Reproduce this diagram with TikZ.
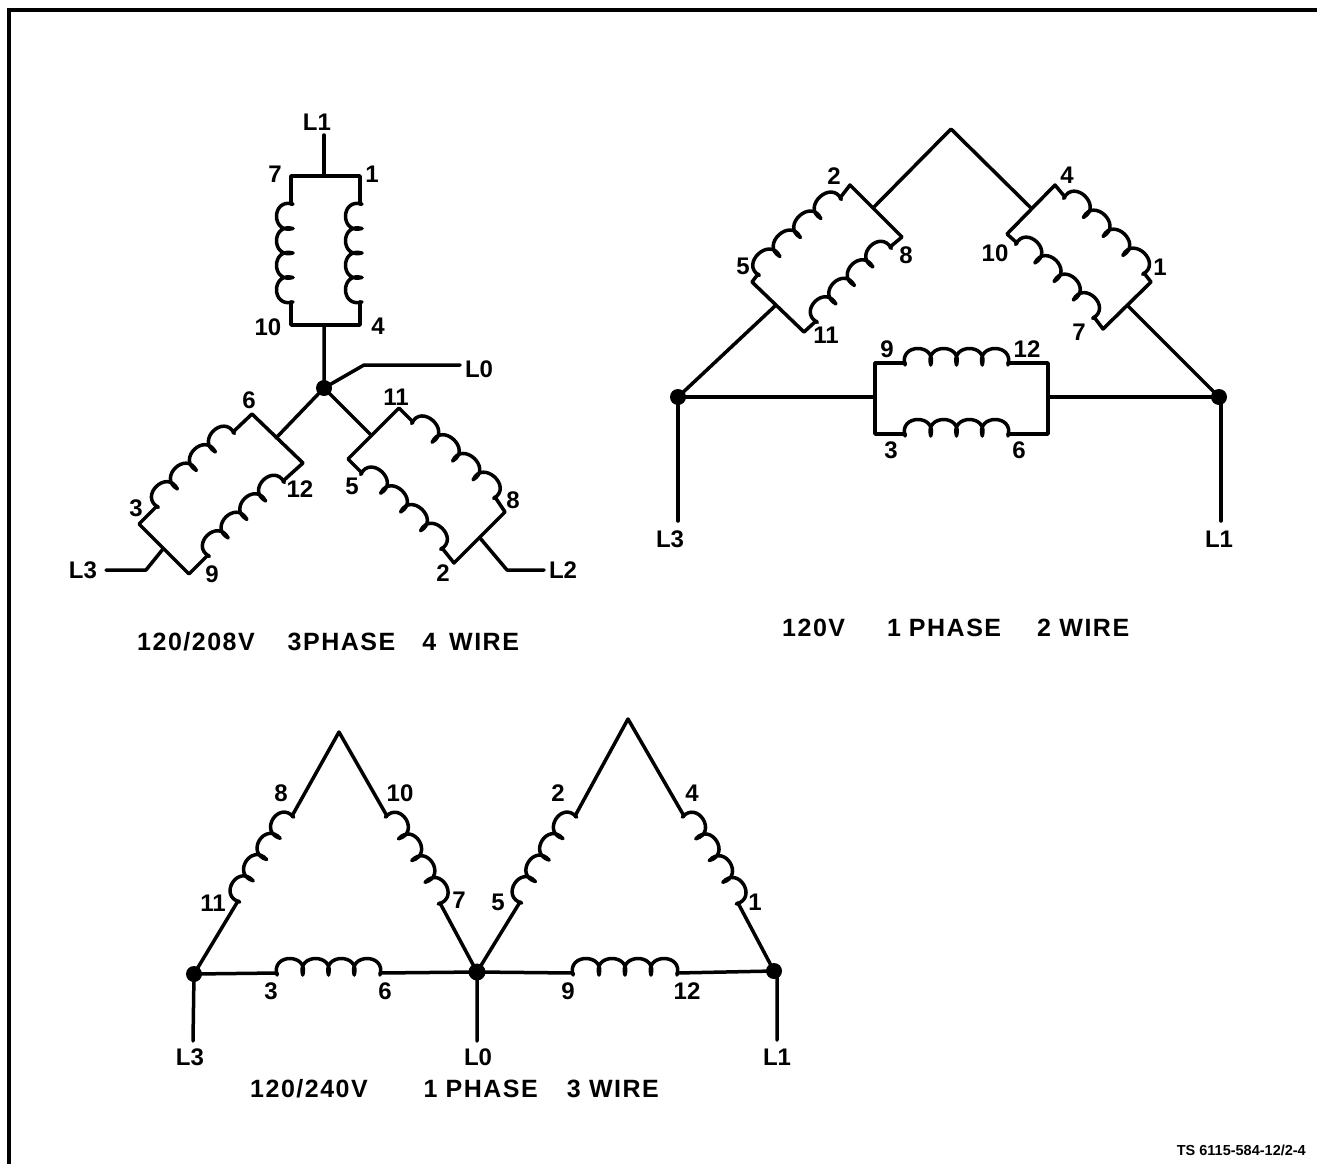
\documentclass[tikz,border=0pt]{standalone}
\usepackage{fontspec}
\setmainfont{Liberation Sans}
\usetikzlibrary{calc}
\newfontfamily\lblfont[LetterSpace=6]{Liberation Sans}
\newcommand{\windg}[3]{%
  \pgfpointdiff{\pgfpointanchor{#1}{center}}{\pgfpointanchor{#2}{center}}%
  \pgfgetlastxy{\wdx}{\wdy}%
  \pgfmathsetmacro{\wlen}{veclen(\wdx,\wdy)}%
  \pgfmathsetmacro{\wang}{atan2(\wdy,\wdx)}%
  \pgfmathsetmacro{\wstep}{\wlen/#3}%
  \begin{scope}[shift={(#1)},rotate=\wang,y=1pt]
    \draw[wire] (0,0) -- (0,-2) foreach \i in {1,...,#3} {
      .. controls ({(\i-1.25)*\wstep},20) and ({(\i+0.25)*\wstep},20) .. ({\i*\wstep},-2) } -- (\wlen,0);
  \end{scope}}
\tikzset{
  wire/.style={line width=3.5pt,line cap=round,line join=round,black},
  joint/.style={circle,fill=black,inner sep=0pt,minimum size=16pt},
  num/.style={font=\fontsize{24}{26}\selectfont\bfseries,inner sep=0pt,text=black},
  lead/.style={font=\fontsize{24}{26}\selectfont\bfseries,inner sep=0pt,text=black},
  title/.style={font=\lblfont\fontsize{25}{27}\selectfont\bfseries,inner sep=0pt,text=black,anchor=west},
}
\begin{document}
\begin{tikzpicture}[x=1pt,y=-1pt]
\useasboundingbox (0,0) rectangle (1317,1164);
\coordinate (fa) at (9,1164); \coordinate (fb) at (9,10); \coordinate (fc) at (1317,10);
\draw[line width=4pt,line join=miter] (fa) -- (fb) -- (fc);

% ---------- star 120/208V
\coordinate (sTop) at (324,135);
\coordinate (sTL) at (291,176); \coordinate (sTM) at (324,176); \coordinate (sTR) at (360,176);
\coordinate (sBL) at (291,325); \coordinate (sBM) at (324,325); \coordinate (sBR) at (360,325);
\coordinate (sLa) at (291,302); \coordinate (sLb) at (291,204);
\coordinate (sRa) at (360,302); \coordinate (sRb) at (360,204);
\node[joint] (sC) at (324,388) {};
\draw[wire] (sTop) -- (sTM);
\draw[wire] (sLb) -- (sTL) -- (sTR) -- (sRb) (sRa) -- (sBR) -- (sBL) -- (sLa);
\windg{sLa}{sLb}{4}
\windg{sRa}{sRb}{4}
\coordinate (sL0a) at (364,365); \coordinate (sL0b) at (460,365);
\draw[wire] (sBM) -- (sC.center) -- (sL0a) -- (sL0b);
% left arm
\coordinate (a6) at (252,414); \coordinate (a12) at (303,463); \coordinate (aT) at (276,438);
\coordinate (a3) at (139,524); \coordinate (a9) at (189,574); \coordinate (aB) at (163,549);
\coordinate (aOa) at (157,506); \coordinate (aOb) at (233,432);
\coordinate (aIa) at (208,555); \coordinate (aIb) at (283,481);
\coordinate (aL3a) at (146,570); \coordinate (aL3b) at (106,570);
\draw[wire] (sC.center) -- (aT);
\draw[wire] (a12) -- (a6) -- (aOb) (aOa) -- (a3) -- (a9) -- (aIa) (aIb) -- (a12);
\windg{aOa}{aOb}{4}
\windg{aIa}{aIb}{4}
\draw[wire] (aB) -- (aL3a) -- (aL3b);
% right arm
\coordinate (b11) at (399,408); \coordinate (b5) at (348,459); \coordinate (bT) at (371,435);
\coordinate (b8) at (505,512); \coordinate (b2) at (454,563); \coordinate (bB) at (480,538);
\coordinate (bOa) at (413,422); \coordinate (bOb) at (495,497);
\coordinate (bIa) at (362,473); \coordinate (bIb) at (442,548);
\coordinate (bL2a) at (507,570); \coordinate (bL2b) at (544,570);
\draw[wire] (sC.center) -- (bT);
\draw[wire] (b5) -- (b11) -- (bOa) (bOb) -- (b8) -- (b2) -- (bIb) (bIa) -- (b5);
\windg{bOa}{bOb}{4}
\windg{bIa}{bIb}{4}
\draw[wire] (bB) -- (bL2a) -- (bL2b);

\node[lead] (tL1a) at (317,122) {L1};
\node[lead] (tL0a) at (479,369) {L0};
\node[lead] (tL3a) at (83,570) {L3};
\node[lead] (tL2a) at (563,570) {L2};
\foreach \n/\t/\x/\y in {n7/7/275/174,n1/1/372/174,n10/10/268/327,n4/4/378/326,n6/6/249/400,n12/12/300/489,n3/3/136/508,n9/9/212/574,n11/11/396/397,n5/5/352/486,n8/8/513/500,n2/2/443/573}
  \node[num] (a\n) at (\x,\y) {\t};
\node[title] (tA) at (137,642) {120/208V\hspace{33pt}3PHASE\hspace{27pt}4\hspace{13pt}WIRE};

% ---------- delta 120V
\coordinate (dApex) at (951,129);
\coordinate (dLt) at (874,207); \coordinate (dRt) at (1031,208);
\coordinate (d2) at (850,185); \coordinate (d8) at (902,237);
\coordinate (d5) at (752,282); \coordinate (d11) at (804,332);
\coordinate (dLb) at (775,306);
\coordinate (dOa) at (758,274); \coordinate (dOb) at (840,198);
\coordinate (dIa) at (816,321); \coordinate (dIb) at (890,247);
\coordinate (d4) at (1055,185); \coordinate (d10) at (1007,234);
\coordinate (d1) at (1151,282); \coordinate (d7) at (1103,329);
\coordinate (dRb) at (1127,305);
\coordinate (ePa) at (1065,197); \coordinate (ePb) at (1144,273);
\coordinate (eQa) at (1017,243); \coordinate (eQb) at (1094,317);
\node[joint] (dA) at (678,397) {};
\node[joint] (dB) at (1219,397) {};
\draw[wire] (dLt) -- (dApex) -- (dRt);
\draw[wire] (d8) -- (d2) -- (dOb) (dOa) -- (d5) -- (d11) -- (dIa) (dIb) -- (d8);
\windg{dOa}{dOb}{4}
\windg{dIa}{dIb}{4}
\draw[wire] (d10) -- (d4) -- (ePa) (ePb) -- (d1) -- (d7) -- (eQb) (eQa) -- (d10);
\windg{ePa}{ePb}{4}
\windg{eQa}{eQb}{4}
\draw[wire] (dLb) -- (dA.center) (dRb) -- (dB.center);
\coordinate (rTL) at (875,363); \coordinate (rTR) at (1048,363);
\coordinate (rBL) at (875,434); \coordinate (rBR) at (1048,434);
\coordinate (rTa) at (905,363); \coordinate (rTb) at (1008,363);
\coordinate (rBa) at (905,434); \coordinate (rBb) at (1008,434);
\coordinate (rML) at (875,397); \coordinate (rMR) at (1048,397);
\draw[wire] (rTa) -- (rTL) -- (rBL) -- (rBa) (rBb) -- (rBR) -- (rTR) -- (rTb);
\windg{rTa}{rTb}{4}
\windg{rBa}{rBb}{4}
\draw[wire] (dA.center) -- (rML) (rMR) -- (dB.center);
\coordinate (dL3) at (678,521); \coordinate (dR1t) at (1221,397); \coordinate (dL1) at (1221,521);
\draw[wire] (dA.center) -- (dL3) (dR1t) -- (dL1);
\node[lead] (tL3b) at (670,539) {L3};
\node[lead] (tL1b) at (1219,539) {L1};
\foreach \n/\t/\x/\y in {n2/2/834/176,n8/8/906/255,n5/5/743/266,n11/11/826/335,n4/4/1067/175,n10/10/995/253,n1/1/1160/267,n7/7/1079/332,n9/9/887/349,n12/12/1027/349,n3/3/891/450,n6/6/1019/450}
  \node[num] (b\n) at (\x,\y) {\t};
\node[title] (tB) at (782,628) {120V\hspace{42pt}1\hspace{8pt}PHASE\hspace{36pt}2 WIRE};

% ---------- open deltas 120/240V
\coordinate (pA) at (339,732); \coordinate (pB) at (628,719);
\node[joint] (pL) at (194,974) {};
\node[joint,minimum size=17pt] (pM) at (477,972) {};
\node[joint] (pR) at (774,971) {};
\coordinate (c1a) at (238,901); \coordinate (c1b) at (292,816);
\coordinate (c2a) at (387,816); \coordinate (c2b) at (440,903);
\coordinate (c3a) at (520,902); \coordinate (c3b) at (575,816);
\coordinate (c4a) at (684,816); \coordinate (c4b) at (738,903);
\coordinate (c5a) at (277,973); \coordinate (c5b) at (380,973);
\coordinate (c6a) at (573,973); \coordinate (c6b) at (677,973);
\draw[wire] (pL.center) -- (c1a) (c1b) -- (pA) -- (c2a) (c2b) -- (pM.center) -- (c3a) (c3b) -- (pB) -- (c4a) (c4b) -- (pR.center);
\windg{c1a}{c1b}{4}
\windg{c2a}{c2b}{4}
\windg{c3a}{c3b}{4}
\windg{c4a}{c4b}{4}
\draw[wire] (pL.center) -- (c5a) (c5b) -- (pM.center) -- (c6a) (c6b) -- (pR.center);
\windg{c5a}{c5b}{4}
\windg{c6a}{c6b}{4}
\coordinate (pL3) at (193,1041); \coordinate (pL0) at (477,1041); \coordinate (pRt) at (777,972); \coordinate (pL1) at (777,1040);
\draw[wire] (pL.center) -- (pL3) (pM.center) -- (pL0) (pRt) -- (pL1);
\node[lead] (tL3c) at (190,1057) {L3};
\node[lead] (tL0c) at (478,1057) {L0};
\node[lead] (tL1c) at (777,1057) {L1};
\foreach \n/\t/\x/\y in {n8/8/281/793,n11/11/213/903,n10/10/400/793,n7/7/459/900,n2/2/558/793,n5/5/498/902,n4/4/692/793,n1/1/755/902,n3/3/271/991,n6/6/385/991,n9/9/568/991,n12/12/687/991}
  \node[num] (c\n) at (\x,\y) {\t};
\node[title] (tC) at (250,1089) {120/240V\hspace{56pt}1\hspace{8pt}PHASE\hspace{29pt}3 WIRE};

\node[font=\fontsize{14.5}{16}\selectfont\bfseries,inner sep=0pt,anchor=east] (tRef) at (1306,1150) {TS 6115-584-12/2-4};
\end{tikzpicture}
\end{document}
